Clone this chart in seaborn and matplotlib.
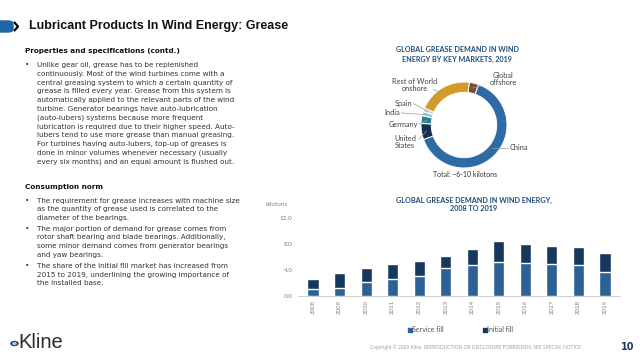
import matplotlib
matplotlib.use('Agg')
import matplotlib.pyplot as plt
from matplotlib import font_manager
from matplotlib.lines import Line2D
from matplotlib.patches import FancyBboxPatch, Circle
import numpy as np
import pandas as pd
import seaborn as sns

# bar chart data (kilotons)
years = ['2008', '2009', '2010', '2011', '2012', '2013', '2014', '2015', '2016', '2017', '2018', '2019']
service_fill = [1.13, 1.29, 2.16, 2.63, 3.14, 4.33, 4.74, 5.26, 5.05, 4.95, 4.79, 3.76]
initial_fill = [1.45, 2.21, 2.22, 2.27, 2.32, 1.86, 2.58, 3.24, 2.99, 2.83, 2.79, 2.94]
y_ticks = [0.0, 4.0, 8.0, 12.0]

# donut data (share of 2019 demand, %)
markets = ['Global offshore', 'China', 'United States', 'Germany', 'India', 'Spain', 'Rest of World onshore']
shares = [3.6, 64.0, 6.0, 3.0, 1.5, 1.4, 20.5]
market_colors = ['#7A5230', '#2E6BA4', '#142F4F', '#2A8290', '#8ACFDB', '#C5DCEA', '#D49B2A']

SERVICE_C = '#2C6196'
INITIAL_C = '#16385E'
TITLE_C = '#1F4E79'
TEXT_C = '#333333'
GRAY = '#808080'

sns.set_theme(style='white')
plt.rcParams['font.family'] = ['DejaVu Sans']

fig = plt.figure(figsize=(6.4, 3.6), dpi=100)
W, H = 640, 360


def fx(px):
    return px / W


def fy(py):
    return 1 - py / H


# header
fig.patches.append(FancyBboxPatch((fx(-4), fy(32)), fx(17), 11 / H, boxstyle='round,pad=0,rounding_size=0.008',
                                  transform=fig.transFigure, color='#1E64A6', zorder=2))
fig.lines.append(Line2D([fx(14.5), fx(18), fx(14.5)], [fy(22.5), fy(26.5), fy(30.5)],
                        transform=fig.transFigure, color='black', lw=1.6))
installed = {f.name for f in font_manager.fontManager.ttflist}
title_family = 'Liberation Sans Narrow' if 'Liberation Sans Narrow' in installed else 'Liberation Sans'
title = fig.text(fx(29), fy(26.5), 'Lubricant Products In Wind Energy: Grease', fontsize=10.5, fontweight='bold',
                 family=[title_family], va='center', ha='left', color='#111111')
renderer = fig.canvas.get_renderer()
tw = title.get_window_extent(renderer).width
if tw > 240:
    title.set_fontsize(max(9.0, 10.5 * 236 / tw))

# left text column
body1 = ['Unlike gear oil, grease has to be replenished',
         'continuously. Most of the wind turbines come with a',
         'central greasing system to which a certain quantity of',
         'grease is filled every year. Grease from this system is',
         'automatically applied to the relevant parts of the wind',
         'turbine. Generator bearings have auto-lubrication',
         '(auto-lubers) systems because more frequent',
         'lubrication is required due to their higher speed. Auto-',
         'lubers tend to use more grease than manual greasing.',
         'For turbines having auto-lubers, top-up of greases is',
         'done in minor volumes whenever necessary (usually',
         'every six months) and an equal amount is flushed out.']
body2 = [['The requirement for grease increases with machine size',
          'as the quantity of grease used is correlated to the',
          'diameter of the bearings.'],
         ['The major portion of demand for grease comes from',
          'rotor shaft bearing and blade bearings. Additionally,',
          'some minor demand comes from generator bearings',
          'and yaw bearings.'],
         ['The share of the initial fill market has increased from',
          '2015 to 2019, underlining the growing importance of',
          'the installed base.']]

fs_body = 5.2
fig.text(fx(25), fy(51.5), 'Properties and specifications (contd.)', fontsize=fs_body, fontweight='bold',
         color='#111111', va='center')
fig.text(fx(25), fy(65), '•', fontsize=fs_body, color=TEXT_C, va='center')
for i, line in enumerate(body1):
    fig.text(fx(37), fy(65 + i * 8.8), line, fontsize=fs_body, color=TEXT_C, va='center')

fig.text(fx(25), fy(187.3), 'Consumption norm', fontsize=fs_body, fontweight='bold', color='#111111', va='center')
for start, lines in zip([200.7, 229.0, 266.0], body2):
    fig.text(fx(25), fy(start), '•', fontsize=fs_body, color=TEXT_C, va='center')
    for i, line in enumerate(lines):
        fig.text(fx(37), fy(start + i * 8.5), line, fontsize=fs_body, color=TEXT_C, va='center')

# donut chart
lato = ['Lato', 'DejaVu Sans']
fig.text(fx(457), fy(50), 'GLOBAL GREASE DEMAND IN WIND', fontsize=5.1, fontweight='bold', color=TITLE_C,
         ha='center', va='center', family=lato)
fig.text(fx(457), fy(59.3), 'ENERGY BY KEY MARKETS, 2019', fontsize=5.1, fontweight='bold', color=TITLE_C,
         ha='center', va='center', family=lato)

axd = fig.add_axes([fx(421), fy(168), 86 / W, 86 / H])
axd.pie(shares, colors=market_colors, startangle=83, counterclock=False,
        wedgeprops=dict(width=0.24, edgecolor='white', linewidth=0.7))
axd.set_xlim(-1, 1)
axd.set_ylim(-1, 1)
axd.set_aspect('equal')
axd.axis('off')

lab = dict(fontsize=5.3, color='#444444', family=lato, va='center')
line_kw = dict(color='#9A9A9A', lw=0.5)
axd.text(0.91, 1.07, 'Global\noffshore', ha='center', linespacing=1.0, **lab)
axd.plot([0.2, 0.42], [0.86, 0.9], clip_on=False, **line_kw)
axd.text(-1.14, 0.93, 'Rest of World\nonshore', ha='center', linespacing=1.0, **lab)
axd.plot([-0.72, -0.5], [0.82, 0.74], clip_on=False, **line_kw)
axd.text(-1.2, 0.51, 'Spain', ha='right', **lab)
axd.plot([-1.18, -0.83], [0.5, 0.31], clip_on=False, **line_kw)
axd.text(-1.48, 0.29, 'India', ha='right', **lab)
axd.plot([-1.46, -0.85], [0.28, 0.24], clip_on=False, **line_kw)
axd.text(-1.06, 0.02, 'Germany', ha='right', **lab)
axd.plot([-1.04, -0.87], [0.02, 0.11], clip_on=False, **line_kw)
axd.text(-1.37, -0.39, 'United\nStates', ha='center', linespacing=1.0, **lab)
axd.plot([-1.05, -0.87], [-0.33, -0.14], clip_on=False, **line_kw)
axd.text(1.05, -0.53, 'China', ha='left', **lab)
axd.plot([0.64, 1.02], [-0.53, -0.53], clip_on=False, **line_kw)
axd.text(0.02, -1.14, 'Total: ~6-10 kilotons', ha='center', fontsize=5.0, color='#333333', family=lato, va='center')

# stacked bar chart
fig.text(fx(474), fy(200), 'GLOBAL GREASE DEMAND IN WIND ENERGY,', fontsize=5.2, fontweight='bold', color=TITLE_C,
         ha='center', va='center', family=lato)
fig.text(fx(474), fy(208.5), '2008 TO 2019', fontsize=5.2, fontweight='bold', color=TITLE_C,
         ha='center', va='center', family=lato)

df = pd.DataFrame({'year': years, 'service': service_fill, 'initial': initial_fill})
df['total'] = df['service'] + df['initial']

axb = fig.add_axes([fx(298), fy(296), 322 / W, (296 - 218.3) / H])
sns.barplot(data=df, x='year', y='total', color=INITIAL_C, saturation=1, width=0.42, errorbar=None, ax=axb)
sns.barplot(data=df, x='year', y='service', color=SERVICE_C, saturation=1, width=0.42, errorbar=None, ax=axb)
axb.set_xlim(-0.565, 11.565)
axb.set_ylim(0, 12)
axb.set_yticks(y_ticks)
axb.set_yticklabels([f'{v:.1f}' for v in y_ticks])
axb.set_xlabel('')
axb.set_ylabel('')
axb.tick_params(axis='y', length=0, labelsize=4.6, labelcolor=GRAY, pad=4)
axb.tick_params(axis='x', length=0, labelsize=4.4, labelcolor=GRAY, pad=3, rotation=90)
for side in ['top', 'right', 'left']:
    axb.spines[side].set_visible(False)
axb.spines['bottom'].set_color('#C8C8C8')
axb.spines['bottom'].set_linewidth(0.6)
for t in axb.get_yticklabels() + axb.get_xticklabels():
    t.set_family(lato)

fig.text(fx(277), fy(205), 'kilotons', fontsize=4.6, color=GRAY, ha='center', va='center', family=lato)

handles = [Line2D([], [], marker='s', ls='', color=SERVICE_C, markersize=2.5),
           Line2D([], [], marker='s', ls='', color=INITIAL_C, markersize=2.5)]
leg = fig.legend(handles, ['Service fill', 'Initial fill'], loc='center', bbox_to_anchor=(fx(461), fy(329.5)),
                 ncol=2, frameon=False, handlelength=0.4, handletextpad=0.15, columnspacing=5.7,
                 prop={'size': 5.0, 'family': lato})
for t in leg.get_texts():
    t.set_color('#555555')

# footer
fig.text(fx(475), fy(347.5), 'Copyright © 2020 Kline. REPRODUCTION OR DISCLOSURE FORBIDDEN. SEE SPECIAL NOTICE',
         fontsize=3.5, color='#A0A0A0', ha='center', va='center', family=lato)
fig.text(fx(628), fy(347.5), '10', fontsize=7, fontweight='bold', color='#1F3A5F', ha='center', va='center')

fig.patches.append(Circle((fx(14.5), fy(343.5)), 3.6 / W, transform=fig.transFigure, color='#2F4660', zorder=3))
fig.patches.append(Circle((fx(14.5), fy(343.5)), 1.6 / W, transform=fig.transFigure, color='#A9C6E0', zorder=4))
fig.text(fx(18), fy(343), 'Kline', fontsize=14.5, color='#2B2B2B', ha='left', va='center', family=['Liberation Sans'])

fig.savefig('out.png', dpi=100)
